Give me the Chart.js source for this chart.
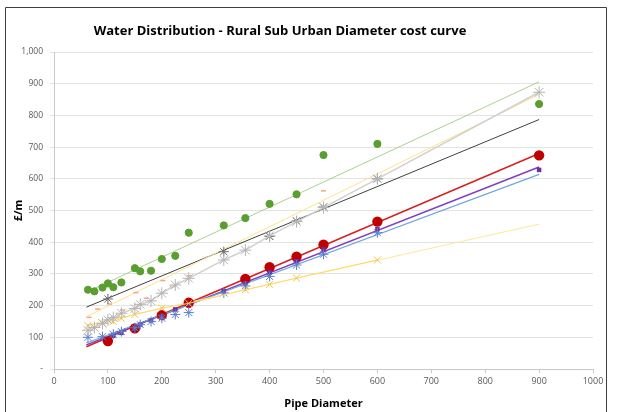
<!DOCTYPE html>
<html>
<head>
<meta charset="utf-8">
<script src="https://cdn.jsdelivr.net/npm/chart.js@4/dist/chart.umd.min.js"></script>
<style>
  html, body { margin: 0; padding: 0; background: #fff; }
  #wrap { position: relative; width: 618px; height: 412px; }
</style>
</head>
<body>
<div id="wrap"><canvas id="costChart" width="618" height="412"></canvas></div>
<script>
// ── Data ─────────────────────────────────────────────────────────
const TITLE = 'Water Distribution - Rural Sub Urban Diameter cost curve';

const Y_TICKS = [0, 100, 200, 300, 400, 500, 600, 700, 800, 900, 1000];
const X_TICKS = [0, 100, 200, 300, 400, 500, 600, 700, 800, 900, 1000];

const TREND_X = [60, 900];

const greenDia = [63, 75, 90, 100, 110, 125, 150, 160, 180, 200, 225, 250, 315, 355, 400, 450, 500, 600, 900];
const greenCost = [250, 245, 257, 270, 258, 273, 318, 308, 310, 347, 357, 430, 453, 476, 521, 551, 675, 710, 836];
const greenTrend = [242, 906];

const redDia = [100, 150, 200, 250, 355, 400, 450, 500, 600, 900];
const redCost = [88, 128, 170, 209, 284, 321, 354, 392, 465, 674];
const redTrend = [70, 680];

const purpleDia = [110, 125, 150, 160, 180, 200, 225, 250, 315, 355, 400, 450, 500, 600, 900];
const purpleCost = [105, 114, 128, 140, 153, 166, 188, 205, 246, 270, 305, 340, 377, 441, 628];
const purpleTrend = [76, 637];

const blueDia = [63, 90, 110, 125, 150, 160, 180, 200, 225, 250, 315, 355, 400, 450, 500, 600];
const blueCost = [100, 102, 110, 118, 130, 140, 150, 160, 172, 178, 240, 262, 292, 328, 362, 430];
const blueTrend = [82, 614];

const greyDia = [63, 75, 90, 100, 110, 125, 150, 160, 180, 200, 225, 250, 315, 355, 400, 450, 500, 600, 900];
const greyCost = [122, 131, 144, 155, 162, 176, 191, 204, 215, 239, 265, 286, 344, 375, 420, 465, 509, 600, 873];

const darkDia = [100, 315, 400, 450, 500, 600];
const darkCost = [221, 370, 418, 467, 511, 600];
const darkTrend = [195, 787];

const dashDia = [65, 81, 103, 127, 152, 171, 202, 220, 251, 500];
const dashCost = [163, 189, 205, 186, 241, 223, 279, 260, 294, 562];
const dashTrend = [165, 866];

const goldDia = [63, 90, 110, 125, 150, 200, 250, 355, 400, 450, 600];
const goldCost = [137, 145, 150, 160, 172, 192, 207, 250, 267, 287, 344];
const goldTrend = [138, 457];


// ── Helpers ──────────────────────────────────────────────────────
const pts = (xs, ys) => xs.map((x, i) => ({ x, y: ys[i] }));

function markers(label, xs, ys, style) {
  return Object.assign({
    label,
    data: pts(xs, ys),
    showLine: false,
    order: 1
  }, style);
}

function trend(label, ys, color, width = 1) {
  return {
    label,
    data: pts(TREND_X, ys),
    showLine: true,
    borderColor: color,
    borderWidth: width,
    pointRadius: 0,
    pointHoverRadius: 0,
    order: 2
  };
}

const FONT = "'Open Sans', 'Liberation Sans', sans-serif";

// outer frame plus the heading, which sits left of the plot centre
const framePlugin = {
  id: 'frame',
  beforeDraw(chart) {
    const ctx = chart.ctx;
    ctx.save();
    ctx.strokeStyle = '#3f3f3f';
    ctx.lineWidth = 1;
    ctx.beginPath();
    ctx.moveTo(5.5, 420);
    ctx.lineTo(5.5, 7.5);
    ctx.lineTo(606.5, 7.5);
    ctx.lineTo(606.5, 420);
    ctx.stroke();

    ctx.fillStyle = '#000';
    ctx.font = `bold 13px ${FONT}`;
    ctx.textAlign = 'center';
    ctx.textBaseline = 'middle';
    ctx.fillText(TITLE, 280, 31);
    ctx.restore();
  }
};


// ── Chart ────────────────────────────────────────────────────────
new Chart(document.getElementById('costChart'), {
  type: 'scatter',
  data: {
    datasets: [
      markers('Green', greenDia, greenCost, {
        backgroundColor: '#5a9e32', borderColor: '#5a9e32',
        pointStyle: 'circle', pointRadius: 3.6
      }),
      markers('Grey', greyDia, greyCost, {
        showLine: true, borderColor: '#d0d0d0', borderWidth: 1.5,
        backgroundColor: '#bdbdbd', pointBorderColor: '#b4b4b4',
        pointStyle: 'star', pointRadius: 6, pointBorderWidth: 1
      }),
      markers('Dark', darkDia, darkCost, {
        borderColor: '#6a6a6a', backgroundColor: '#6a6a6a',
        pointStyle: 'star', pointRadius: 5, pointBorderWidth: 1
      }),
      markers('Dash', dashDia, dashCost, {
        borderColor: '#f4a582', backgroundColor: '#f4a582',
        pointStyle: 'line', pointRadius: 2.5, pointBorderWidth: 1.5
      }),
      markers('Gold', goldDia, goldCost, {
        showLine: true, borderColor: '#ffd966', borderWidth: 1,
        pointBorderColor: '#f2c14e', backgroundColor: '#f2c14e',
        pointStyle: 'cross', pointRadius: 5, pointBorderWidth: 1,
        pointRotation: 45
      }),
      markers('Blue', blueDia, blueCost, {
        borderColor: '#5b7fc9', backgroundColor: '#5b7fc9',
        pointStyle: 'star', pointRadius: 5, pointBorderWidth: 1
      }),
      markers('Purple', purpleDia, purpleCost, {
        borderColor: '#7030a0', backgroundColor: '#7030a0',
        pointStyle: 'rect', pointRadius: 3.2, pointBorderWidth: 0
      }),
      markers('Red', redDia, redCost, {
        borderColor: '#c00000', backgroundColor: '#c00000',
        pointStyle: 'circle', pointRadius: 5.2, pointBorderWidth: 0
      }),
      trend('Green trend', greenTrend, '#a9d18e'),
      trend('Dash trend', dashTrend, '#ffe28a'),
      trend('Dark trend', darkTrend, '#404040'),
      trend('Gold trend', goldTrend, '#ffe699'),
      trend('Blue trend', blueTrend, '#6fa8dc', 1.2),
      trend('Purple trend', purpleTrend, '#7f3fbf', 1.5),
      trend('Red trend', redTrend, '#d62020', 1.5)
    ]
  },
  options: {
    responsive: false,
    animation: false,
    layout: { padding: { top: 52, left: 12, right: 25, bottom: 2 } },
    plugins: {
      legend: { display: false },
      tooltip: { enabled: false },
      title: { display: false }
    },
    scales: {
      x: {
        type: 'linear',
        min: 0,
        max: 1000,
        afterBuildTicks: axis => { axis.ticks = X_TICKS.map(v => ({ value: v })); },
        afterFit: axis => { axis.height = 41; },
        ticks: {
          color: '#595959',
          font: { family: FONT, size: 9 },
          padding: 3,
          callback: v => String(v)
        },
        grid: { display: true, drawOnChartArea: false, drawTicks: true, tickLength: 4, color: '#c8c8c8' },
        border: { color: '#c8c8c8' },
        title: {
          display: true,
          text: 'Pipe Diameter',
          color: '#000',
          font: { family: FONT, size: 11, weight: 'bold' },
          padding: { top: 4, bottom: 0 }
        }
      },
      y: {
        min: 0,
        max: 1000,
        afterBuildTicks: axis => { axis.ticks = Y_TICKS.map(v => ({ value: v })); },
        afterFit: axis => { axis.width = 42; },
        ticks: {
          color: '#595959',
          font: { family: FONT, size: 8.5 },
          padding: 7,
          callback: v => v === 0 ? '-' : v.toLocaleString('en-US')
        },
        grid: { color: '#e3e3e3', tickLength: 4, lineWidth: 1 },
        border: { color: '#c8c8c8' },
        title: {
          display: true,
          text: '£/m',
          color: '#000',
          font: { family: FONT, size: 11, weight: 'bold' },
          padding: { top: 0, bottom: 0 }
        }
      }
    }
  },
  plugins: [framePlugin]
});
</script>
</body>
</html>
